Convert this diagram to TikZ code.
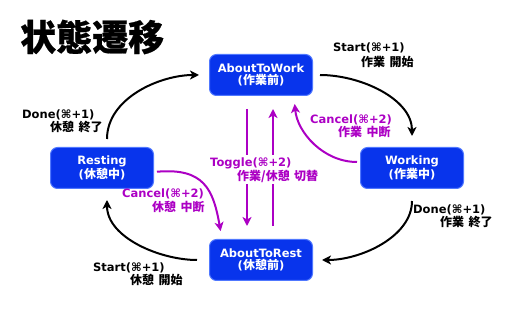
\documentclass[tikz,border=0pt]{standalone}
\usepackage{fontspec}
\setmainfont{DejaVu Sans}
\newfontfamily\jp{Noto Sans CJK JP}[WordSpace=1.6]
\newfontfamily\titlefont{Noto Sans CJK JP}[BoldFeatures={FakeBold=0.6}]
\usetikzlibrary{arrows.meta}
\definecolor{boxblue}{RGB}{8,52,236}
\definecolor{boxedge}{RGB}{80,120,255}
\definecolor{purp}{RGB}{172,0,196}
\begin{document}
\begin{tikzpicture}[x=1pt,y=-1pt,
  state/.style={draw=boxedge, fill=boxblue, line width=1pt, rounded corners=7pt,
    minimum width=103pt, minimum height=41pt, text=white, align=center, inner sep=0pt,
    font=\fontsize{11.5}{12.5}\selectfont\bfseries},
  lat/.style={font=\fontsize{11.5}{12}\selectfont\bfseries, anchor=west, inner sep=0pt},
  jpl/.style={font=\fontsize{12}{12}\selectfont\jp\bfseries, anchor=west, inner sep=0pt},
  tip/.style={-{Stealth[length=9pt,width=9pt,inset=2.5pt]}},
  blk/.style={draw=black, line width=2pt, tip},
  prp/.style={draw=purp, line width=2pt, tip},
  plab/.style={text=purp},
  wfill/.style={fill=white, inner ysep=2pt},
]
\useasboundingbox (0,0) rectangle (512,320);

\node (title) [anchor=west, inner sep=0pt, font=\fontsize{36}{36}\selectfont\titlefont\bfseries] at (20,37) {状態遷移};

\node (atw)  [state] at (261,75)  {AboutToWork\\({\fontsize{12}{12}\selectfont\jp 作業前})};
\node (work) [state] at (412,168) {Working\\({\fontsize{12}{12}\selectfont\jp 作業中})};
\node (rest) [state] at (102,168) {Resting\\({\fontsize{12}{12}\selectfont\jp 休憩中})};
\node (atr)  [state] at (261,260) {AboutToRest\\({\fontsize{12}{12}\selectfont\jp 休憩前})};

% black transitions
\draw[blk, shorten <=7pt, shorten >=11pt] (atw.east) to[out=0, in=90] (work.north);
\draw[blk, shorten <=12pt, shorten >=9pt] (work.south) to[out=-90, in=0] (atr.east);
\draw[blk, shorten <=12pt, shorten >=11pt] (atr.west) to[out=180, in=-90] ([xshift=5pt]rest.south);
\draw[blk, shorten <=8pt, shorten >=10pt] ([xshift=5pt]rest.north) to[out=90, in=180] (atw.west);

% purple transitions
\draw[prp, shorten <=13pt, shorten >=13pt] ([xshift=-14pt]atw.south) -- ([xshift=-14pt]atr.north);
\draw[prp, shorten <=13pt, shorten >=13pt] ([xshift=12pt]atr.north) -- ([xshift=12pt]atw.south);
\draw[prp, shorten <=3pt, shorten >=8pt] ([yshift=6pt]work.west) to[out=180, in=-85] ([xshift=33pt]atw.south);
\draw[prp, shorten <=3pt, shorten >=8pt] ([yshift=-4pt]rest.east) to[out=5, in=100, looseness=1.35] ([xshift=-39pt]atr.north);

% labels
\node (l1a) [lat] at (333,48) {Start(⌘+1)};
\node (l1b) [jpl] at (361,62) {作業 開始};
\node (l2a) [lat] at (22,115) {Done(⌘+1)};
\node (l2b) [jpl] at (50,127) {休憩 終了};
\node (l3a) [lat] at (413,210) {Done(⌘+1)};
\node (l3b) [jpl] at (440,222) {作業 終了};
\node (l4a) [lat] at (93,268) {Start(⌘+1)};
\node (l4b) [jpl] at (130,280) {休憩 開始};
\node (l5a) [lat, plab, wfill] at (210,163) {Toggle(⌘+2)};
\node (l5b) [jpl, plab, wfill] at (237,176) {作業/休憩 切替};
\node (l6a) [lat, plab] at (310,120) {Cancel(⌘+2)};
\node (l6b) [jpl, plab] at (338,132) {作業 中断};
\node (l7a) [lat, plab] at (122,194) {Cancel(⌘+2)};
\node (l7b) [jpl, plab] at (152,207) {休憩 中断};
\end{tikzpicture}
\end{document}
